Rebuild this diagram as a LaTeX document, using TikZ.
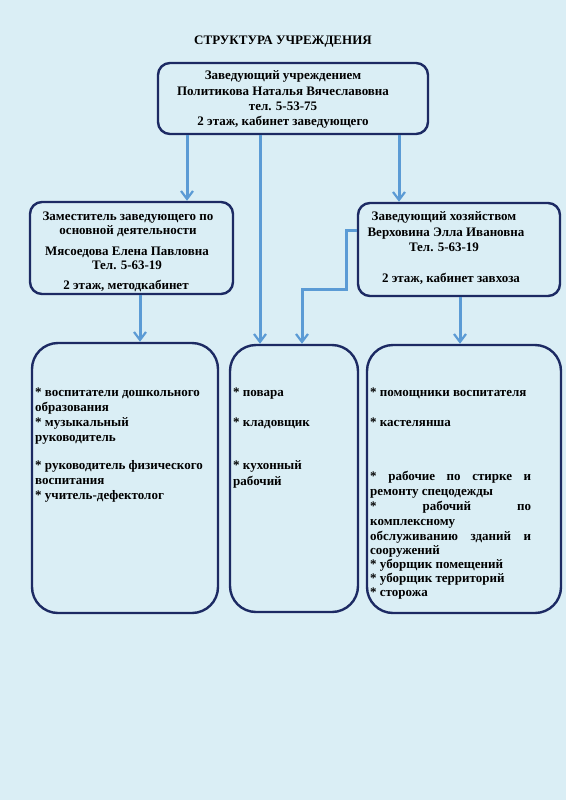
\documentclass[tikz,border=0pt]{standalone}
\usepackage{fontspec}
\setmainfont{Liberation Serif}
\usetikzlibrary{arrows.meta}
\definecolor{bg}{HTML}{DAEEF5}
\definecolor{navy}{HTML}{1C2A63}
\definecolor{arr}{HTML}{5B9BD5}
\begin{document}
\begin{tikzpicture}[x=1pt,y=-1pt,
  box/.style={draw=navy, line width=2.4pt, fill=bg, rounded corners=12pt, inner sep=0pt},
  bigbox/.style={box, rounded corners=26pt},
  txt/.style={font=\fontsize{13}{15}\bfseries\selectfont, inner sep=0pt, text=black},
  ln/.style={txt, anchor=base west},
  cl/.style={txt, anchor=base},
  arrow/.style={draw=arr, line width=3pt, -{Straight Barb[length=8pt,width=12pt,line width=2.2pt]}}
]
\fill[bg] (0,0) rectangle (566,800);
\useasboundingbox (0,0) rectangle (566,800);

\node[cl] (title) at (283,45) {СТРУКТУРА УЧРЕЖДЕНИЯ};

% boxes
\node[box, minimum width=270pt, minimum height=71pt] (top) at (293,98.5) {};
\node[box, minimum width=203pt, minimum height=92pt] (lm) at (131.5,248) {};
\node[box, minimum width=202pt, minimum height=93pt] (rm) at (459,249.5) {};
\node[bigbox, minimum width=186pt, minimum height=270pt] (bl) at (125,478) {};
\node[bigbox, minimum width=128pt, minimum height=267pt] (bm) at (294,478.5) {};
\node[bigbox, minimum width=194pt, minimum height=268pt] (br) at (464,479) {};

% top box text
\node[cl] (t1) at (283,79) {Заведующий учреждением};
\node[cl] (t2) at (283,95) {Политикова Наталья Вячеславовна};
\node[cl] (t3) at (283,110) {тел. 5-53-75};
\node[cl] (t4) at (283,125) {2 этаж, кабинет заведующего};

% left middle text
\node[cl] (l1) at (128,220) {Заместитель заведующего по};
\node[cl] (l2) at (128,234) {основной деятельности};
\node[cl] (l3) at (127,255.5) {Мясоедова Елена Павловна};
\node[cl] (l4) at (127,269) {Тел. 5-63-19};
\node[cl] (l5) at (126,289) {2 этаж, методкабинет};

% right middle text
\node[cl] (r1) at (444,220) {Заведующий хозяйством};
\node[cl] (r2) at (446,236) {Верховина Элла Ивановна};
\node[cl] (r3) at (444,251.5) {Тел. 5-63-19};
\node[cl] (r4) at (451,282.5) {2 этаж, кабинет завхоза};

% bottom left text
\node[ln] (a1) at (35,396) {* воспитатели дошкольного};
\node[ln] (a2) at (35,411.5) {образования};
\node[ln] (a3) at (35,426.5) {* музыкальный};
\node[ln] (a4) at (35,441.5) {руководитель};
\node[ln] (a5) at (35,469) {* руководитель физического};
\node[ln] (a6) at (35,484) {воспитания};
\node[ln] (a7) at (35,499) {* учитель-дефектолог};

% bottom middle text
\node[ln] (b1) at (233,396.5) {* повара};
\node[ln] (b2) at (233,426.5) {* кладовщик};
\node[ln] (b3) at (233,469) {* кухонный};
\node[ln] (b4) at (233,485) {рабочий};

% bottom right text
\node[ln] (c1) at (370,396.5) {* помощники воспитателя};
\node[ln] (c2) at (370,426.5) {* кастелянша};
\node[ln] (c3) at (370,480) {\makebox[161pt][s]{* \hfill рабочие \hfill по \hfill стирке \hfill и}};
\node[ln] (c4) at (370,495) {ремонту спецодежды};
\node[ln] (c5) at (370,510) {\makebox[161pt][s]{* \hfill рабочий \hfill по}};
\node[ln] (c6) at (370,525) {комплексному};
\node[ln] (c7) at (370,540) {\makebox[161pt][s]{обслуживанию \hfill зданий \hfill и}};
\node[ln] (c8) at (370,554) {сооружений};
\node[ln] (c9) at (370,568) {* уборщик помещений};
\node[ln] (c10) at (370,582) {* уборщик территорий};
\node[ln] (c11) at (370,596) {* сторожа};

% connectors
\coordinate (xa) at (187,0);
\coordinate (xb) at (260,0);
\coordinate (xc) at (399,0);
\coordinate (xd) at (140,0);
\coordinate (xe) at (460,0);
\coordinate (e1) at (346,230);
\coordinate (e2) at (302,289);
\draw[arrow] (top.south -| xa) -- (lm.north -| xa);
\draw[arrow] (top.south -| xb) -- (bm.north -| xb);
\draw[arrow] (top.south -| xc) -- (rm.north -| xc);
\draw[arrow] (rm.west |- e1) -- (e1) -- (e1 |- e2) -- (e2) -- (bm.north -| e2);
\draw[arrow] (lm.south -| xd) -- (bl.north -| xd);
\draw[arrow] (rm.south -| xe) -- (br.north -| xe);
\end{tikzpicture}
\end{document}
